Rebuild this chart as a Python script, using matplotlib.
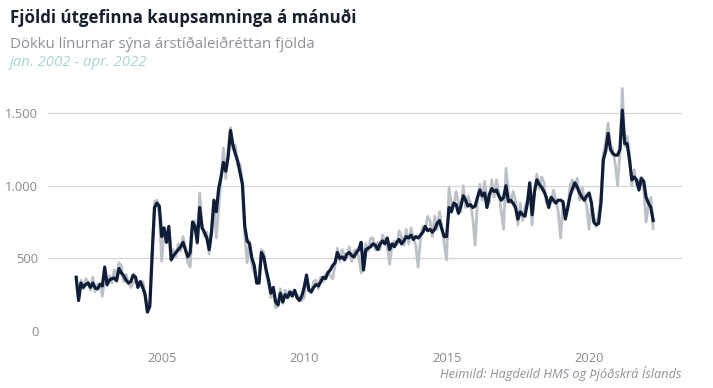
import numpy as np
import matplotlib.pyplot as plt

# monthly values, jan. 2002 - apr. 2022
sa_2002 = [370, 210, 330, 300, 320, 330, 300, 330, 295, 290, 320, 310]
sa_2003 = [440, 320, 350, 360, 365, 345, 430, 400, 380, 350, 330, 340]
sa_2004 = [385, 370, 300, 340, 300, 250, 130, 170, 530, 850, 880, 860]
sa_2005 = [650, 710, 610, 720, 490, 520, 540, 560, 580, 610, 560, 510]
sa_2006 = [540, 750, 720, 610, 850, 710, 680, 640, 560, 680, 900, 820]
sa_2007 = [980, 1060, 1160, 1100, 1200, 1380, 1280, 1220, 1170, 1090, 1010, 720]
sa_2008 = [620, 600, 500, 450, 330, 330, 540, 510, 420, 350, 260, 300]
sa_2009 = [200, 180, 260, 200, 250, 230, 270, 240, 280, 230, 210, 240]
sa_2010 = [300, 385, 280, 270, 300, 320, 310, 340, 370, 360, 400, 420]
sa_2011 = [450, 470, 540, 500, 510, 490, 530, 540, 520, 510, 540, 560]
sa_2012 = [610, 420, 560, 570, 580, 600, 590, 560, 600, 620, 600, 640]
sa_2013 = [560, 600, 580, 610, 630, 600, 620, 650, 640, 660, 630, 650]
sa_2014 = [640, 660, 680, 720, 690, 700, 680, 700, 740, 760, 700, 650]
sa_2015 = [650, 850, 820, 880, 870, 810, 860, 930, 900, 860, 870, 850]
sa_2016 = [860, 920, 970, 930, 950, 850, 940, 980, 960, 970, 930, 900]
sa_2017 = [920, 1000, 890, 900, 880, 850, 770, 820, 800, 790, 880, 1020]
sa_2018 = [800, 960, 1040, 1010, 990, 960, 920, 850, 920, 900, 880, 900]
sa_2019 = [900, 890, 770, 850, 930, 980, 1020, 990, 950, 920, 900, 930]
sa_2020 = [950, 880, 750, 730, 740, 880, 1180, 1240, 1360, 1250, 1220, 1210]
sa_2021 = [1210, 1250, 1520, 1290, 1290, 1180, 1040, 1060, 1040, 970, 1050, 1030]
sa_2022 = [920, 880, 850, 760]

raw_2002 = [360, 220, 350, 290, 360, 340, 280, 370, 270, 320, 330, 240]
raw_2003 = [360, 310, 380, 330, 420, 370, 470, 450, 340, 390, 330, 300]
raw_2004 = [330, 350, 330, 320, 340, 270, 140, 190, 560, 890, 900, 800]
raw_2005 = [480, 680, 640, 700, 540, 560, 510, 600, 550, 650, 570, 470]
raw_2006 = [440, 730, 760, 600, 950, 740, 650, 680, 530, 720, 880, 640]
raw_2007 = [850, 1040, 1260, 1050, 1260, 1400, 1250, 1280, 1140, 1150, 1020, 650]
raw_2008 = [470, 620, 460, 400, 360, 360, 560, 540, 400, 320, 230, 270]
raw_2009 = [160, 170, 290, 190, 280, 250, 240, 270, 260, 250, 230, 210]
raw_2010 = [230, 360, 300, 260, 340, 350, 290, 370, 340, 390, 410, 380]
raw_2011 = [360, 450, 570, 480, 560, 520, 500, 580, 480, 550, 560, 510]
raw_2012 = [400, 440, 600, 550, 640, 640, 560, 610, 560, 660, 620, 580]
raw_2013 = [460, 590, 620, 590, 690, 650, 590, 700, 600, 710, 640, 590]
raw_2014 = [440, 640, 720, 700, 790, 760, 650, 790, 700, 820, 720, 600]
raw_2015 = [490, 990, 860, 860, 960, 880, 820, 1000, 850, 930, 880, 780]
raw_2016 = [590, 900, 1010, 900, 1030, 900, 880, 1040, 920, 1040, 950, 820]
raw_2017 = [700, 1120, 950, 880, 960, 900, 730, 880, 760, 850, 900, 950]
raw_2018 = [730, 940, 1080, 980, 1060, 1020, 880, 900, 880, 970, 900, 820]
raw_2019 = [640, 870, 820, 830, 1000, 1040, 980, 1050, 900, 990, 920, 860]
raw_2020 = [700, 860, 780, 720, 800, 940, 1220, 1300, 1430, 1280, 1250, 1150]
raw_2021 = [1000, 1230, 1670, 1270, 1340, 1220, 1000, 1110, 1000, 1030, 1060, 980]
raw_2022 = [750, 870, 920, 705]

sa = sum([sa_2002, sa_2003, sa_2004, sa_2005, sa_2006, sa_2007, sa_2008,
          sa_2009, sa_2010, sa_2011, sa_2012, sa_2013, sa_2014, sa_2015,
          sa_2016, sa_2017, sa_2018, sa_2019, sa_2020, sa_2021, sa_2022], [])
raw = sum([raw_2002, raw_2003, raw_2004, raw_2005, raw_2006, raw_2007,
           raw_2008, raw_2009, raw_2010, raw_2011, raw_2012, raw_2013,
           raw_2014, raw_2015, raw_2016, raw_2017, raw_2018, raw_2019,
           raw_2020, raw_2021, raw_2022], [])

xticks = [2005, 2010, 2015, 2020]
yticks = [0, 500, 1000, 1500]
ylabels = ['0', '500', '1.000', '1.500']

title = 'Fjöldi útgefinna kaupsamninga á mánuði'
subtitle = 'Dökku línurnar sýna árstíðaleiðréttan fjölda'
period = 'jan. 2002 - apr. 2022'
source = 'Heimild: Hagdeild HMS og Þjóðskrá Íslands'

plt.switch_backend('agg')
plt.rcParams['font.family'] = ['Open Sans', 'DejaVu Sans']

fig = plt.figure(figsize=(7.13, 3.88), dpi=100)
ax = fig.add_axes([0.0673, 0.1469, 0.8892, 0.6554])

t = 2002 + np.arange(len(raw)) / 12.0
ax.plot(t, raw, color='#bcc1c8', lw=2.0, zorder=2)
ax.plot(t, sa, color='#0f1d38', lw=2.3, zorder=3)

ax.set_xlim(2001.01, 2023.26)
ax.set_ylim(0, 1750)
ax.set_xticks(xticks)
ax.set_xticklabels([str(x) for x in xticks])
ax.set_yticks(yticks)
ax.set_yticklabels(ylabels)
ax.tick_params(length=0, labelsize=9.3, colors='#8a8a8a', pad=7)
ax.tick_params(axis='x', pad=15)

for v in yticks:
    ax.axhline(v, color='#eeeeee' if v == 0 else '#d6d6d6', lw=0.9, zorder=1)
for s in ax.spines.values():
    s.set_visible(False)

fig.text(0.014, 0.94, title, fontsize=12.2, fontweight='bold', color='#17202f')
fig.text(0.014, 0.876, subtitle, fontsize=10.8, color='#8d9197')
fig.text(0.014, 0.829, period, fontsize=10.8, style='italic', color='#a9d3d8')
fig.text(0.9565, 0.025, source, fontsize=9.2, style='italic', color='#8d9197',
         ha='right')

fig.savefig('out.png', dpi=100)
